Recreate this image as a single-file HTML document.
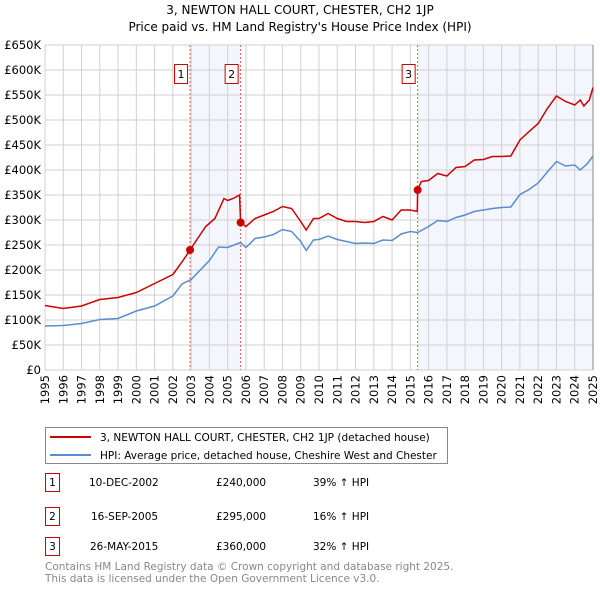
<!DOCTYPE html>
<html><head><meta charset="utf-8"><style>
body{margin:0;background:#fff;font-family:"Liberation Sans","DejaVu Sans",sans-serif;}
svg text{font-family:"DejaVu Sans","Liberation Sans",sans-serif;}
</style></head><body>
<svg id="c" width="600" height="590" xmlns="http://www.w3.org/2000/svg">
<text x="300" y="14" text-anchor="middle" font-size="12" fill="#000">3, NEWTON HALL COURT, CHESTER, CH2 1JP</text>
<text x="300" y="31" text-anchor="middle" font-size="12" fill="#000">Price paid vs. HM Land Registry's House Price Index (HPI)</text>
<g id="plot"></g>
<g>
<rect x="45.5" y="427.5" width="402" height="36" fill="#fff" stroke="#888"/>
<line x1="50" y1="437" x2="91" y2="437" stroke="#cc0000" stroke-width="2"/>
<text x="100" y="441" font-size="10.5">3, NEWTON HALL COURT, CHESTER, CH2 1JP (detached house)</text>
<line x1="50" y1="455" x2="91" y2="455" stroke="#5b8ccf" stroke-width="2"/>
<text x="100" y="459" font-size="10.5">HPI: Average price, detached house, Cheshire West and Chester</text>
</g>
<g font-size="10.5">
<rect x="45.5" y="473.5" width="14" height="18" fill="#fff" stroke="#cc0000"/><text x="52.5" y="486" text-anchor="middle">1</text>
<text x="89" y="486">10-DEC-2002</text><text x="216" y="486">£240,000</text><text x="313" y="486">39% ↑ HPI</text>
<rect x="45.5" y="507.5" width="14" height="18" fill="#fff" stroke="#cc0000"/><text x="52.5" y="520" text-anchor="middle">2</text>
<text x="91" y="520">16-SEP-2005</text><text x="216" y="520">£295,000</text><text x="313" y="520">16% ↑ HPI</text>
<rect x="45.5" y="537.5" width="14" height="18" fill="#fff" stroke="#cc0000"/><text x="52.5" y="550" text-anchor="middle">3</text>
<text x="90" y="550">26-MAY-2015</text><text x="216" y="550">£360,000</text><text x="313" y="550">32% ↑ HPI</text>
</g>
<text x="45" y="570" font-size="10.5" fill="#888">Contains HM Land Registry data © Crown copyright and database right 2025.</text>
<text x="45" y="582" font-size="10.5" fill="#888">This data is licensed under the Open Government Licence v3.0.</text>
</svg>
<script>
const hpiYears=[1995,1996,1997,1998,1999,2000,2001,2002,2002.5,2003,2004,2004.5,2005,2005.7,2006,2006.5,2007,2007.5,2008,2008.5,2009,2009.3,2009.7,2010,2010.5,2011,2011.5,2012,2012.5,2013,2013.5,2014,2014.5,2015,2015.4,2016,2016.5,2017,2017.5,2018,2018.5,2019,2019.5,2020,2020.5,2021,2021.5,2022,2022.5,2023,2023.5,2024,2024.3,2024.7,2025];
const hpiValues=[88,89,93,101,103,118,128,148,172,181,219,246,245,255,245,263,266,271,281,277,257,239,260,261,268,261,257,253,254,253,260,259,272,277,275,287,299,297,305,310,317,320,323,325,326,351,361,374,396,417,408,410,400,413,428];
const propYears=[1995,1996,1997,1998,1999,2000,2001,2002,2002.5,2002.94,2003.3,2003.8,2004.3,2004.8,2005,2005.3,2005.65,2005.71,2006,2006.5,2007,2007.5,2008,2008.5,2009,2009.3,2009.7,2010,2010.5,2011,2011.5,2012,2012.5,2013,2013.5,2014,2014.5,2015,2015.38,2015.4,2015.6,2016,2016.5,2017,2017.5,2018,2018.5,2019,2019.5,2020,2020.5,2021,2021.5,2022,2022.5,2023,2023.5,2024,2024.3,2024.5,2024.8,2025];
const propValues=[129,123,128,141,145,155,173,191,216,240,260,287,303,343,339,343,350,295,287,303,310,317,327,323,297,280,303,303,313,303,297,297,295,297,307,300,320,320,317,360,377,379,393,388,405,407,420,421,427,427,428,460,477,493,523,548,537,530,540,528,540,565];
const saleYears=[2002.94,2005.71,2015.4];
const saleValues=[240,295,360];
const saleLabels=["1","2","3"];
const yTicks=[0,50,100,150,200,250,300,350,400,450,500,550,600,650];
const xTicks=[1995,1996,1997,1998,1999,2000,2001,2002,2003,2004,2005,2006,2007,2008,2009,2010,2011,2012,2013,2014,2015,2016,2017,2018,2019,2020,2021,2022,2023,2024,2025];
const L=45,R=593,T=45,B=370;
const xs=y=>L+(y-1995)/30*(R-L);
const ys=v=>B-v/650*(B-T);
const NS="http://www.w3.org/2000/svg";
const g=document.getElementById('plot');
function mk(t,a,p){const e=document.createElementNS(NS,t);for(const k in a)e.setAttribute(k,a[k]);(p||g).appendChild(e);return e;}
const s1=mk('rect',{x:xs(saleYears[0]),y:T,width:xs(saleYears[1])-xs(saleYears[0]),height:B-T,fill:'#f3f6fd'});


const s2=mk('rect',{x:xs(saleYears[2]),y:T,width:R-xs(saleYears[2]),height:B-T,fill:'#f3f6fd'});


yTicks.forEach(v=>{
 mk('line',{x1:L,x2:R,y1:ys(v),y2:ys(v),stroke:'#d0d0d0','stroke-width':1});
 const t=mk('text',{x:L-4,y:ys(v)+4,'text-anchor':'end','font-size':11.5});t.textContent='£'+(v?v+'K':'0');
 
 
});
xTicks.forEach(y=>{
 mk('line',{x1:xs(y),x2:xs(y),y1:T,y2:B,stroke:'#d0d0d0','stroke-width':1});
 const t=mk('text',{x:0,y:0,'text-anchor':'end','font-size':11.5,transform:`translate(${xs(y)+4},${B+5}) rotate(-90)`});t.textContent=y;
 
 
});
mk('line',{x1:R,x2:R,y1:T,y2:B,stroke:'#888','stroke-width':1});
saleYears.forEach((y,i)=>{
 const l=mk('line',{x1:xs(y),x2:xs(y),y1:T,y2:B,stroke:'#e55','stroke-width':1,'stroke-dasharray':'2,2'});
 
 
});
function line(xa,va,col,name){
 const p=mk('polyline',{points:xa.map((y,i)=>xs(y)+','+ys(va[i])).join(' '),fill:'none',stroke:col,'stroke-width':1.5});
 
 
}
line(hpiYears,hpiValues,'#5b8ccf','hpi-line');
line(propYears,propValues,'#cc0000','property-price-line');
saleYears.forEach((y,i)=>{
 const c=mk('circle',{cx:xs(y),cy:ys(saleValues[i]),r:4,fill:'#cc0000'});
 
 
 const bx=xs(y)-16;
 const r=mk('rect',{x:bx+0.5,y:64.5,width:13,height:19,fill:'#fff',stroke:'#cc0000'});
 
 
 const t=mk('text',{x:bx+7,y:78,'text-anchor':'middle','font-size':11});t.textContent=saleLabels[i];
 
 
});
</script>
</body></html>
